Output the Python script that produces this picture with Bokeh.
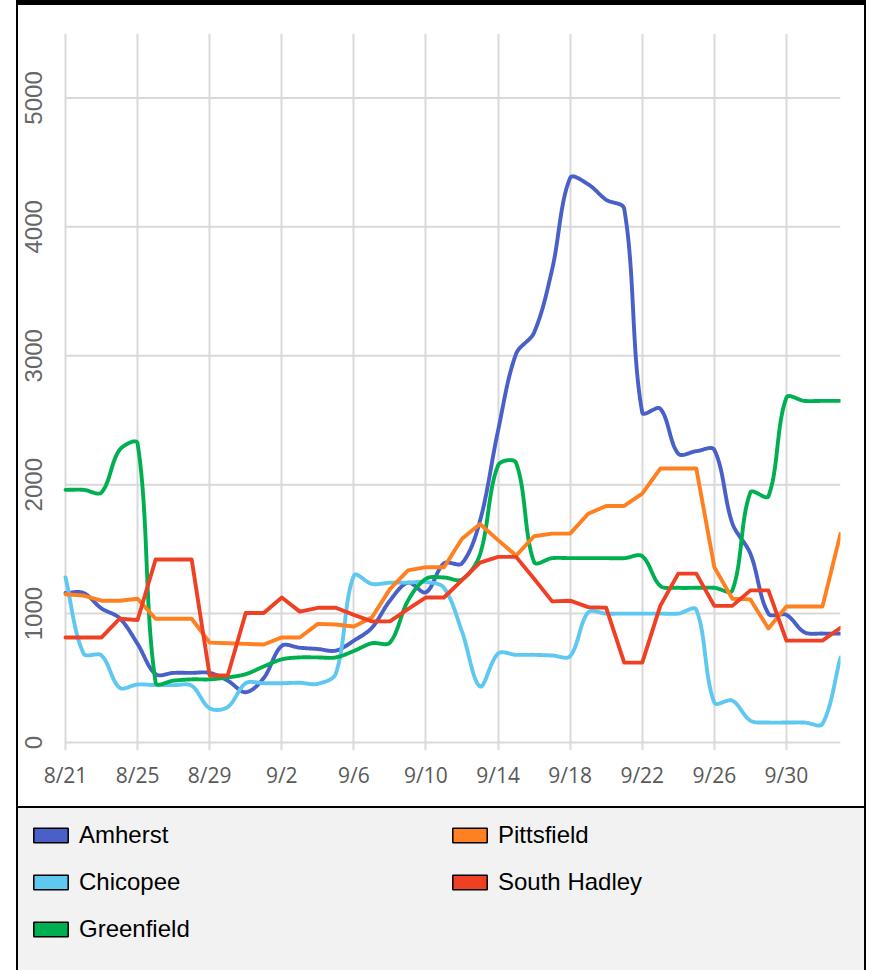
from bokeh.plotting import figure
from bokeh.models import FixedTicker, Range1d, Legend, LegendItem
from bokeh.core.properties import value
from bokeh.layouts import column
from bokeh.embed import file_html
from bokeh.resources import INLINE
import numpy as np

dates = ["8/21", "8/22", "8/23", "8/24", "8/25", "8/26", "8/27", "8/28", "8/29", "8/30", "8/31",
         "9/1", "9/2", "9/3", "9/4", "9/5", "9/6", "9/7", "9/8", "9/9", "9/10", "9/11", "9/12",
         "9/13", "9/14", "9/15", "9/16", "9/17", "9/18", "9/19", "9/20", "9/21", "9/22", "9/23",
         "9/24", "9/25", "9/26", "9/27", "9/28", "9/29", "9/30", "10/1", "10/2", "10/3"]

amherst = [1160, 1160, 1040, 965, 765, 530, 540, 540, 540, 480, 390, 500, 750, 735, 725, 713,
           790, 890, 1100, 1240, 1165, 1390, 1390, 1720, 2420, 3015, 3180, 3670, 4380, 4330,
           4210, 4140, 2560, 2590, 2240, 2260, 2270, 1700, 1465, 1000, 990, 855, 845, 845]
chicopee = [1280, 690, 675, 425, 450, 445, 445, 440, 265, 275, 460, 460, 460, 463, 455, 535,
            1295, 1230, 1240, 1240, 1245, 1200, 860, 435, 690, 680, 680, 675, 670, 1010, 1000,
            1000, 1000, 1000, 1000, 1030, 310, 325, 170, 155, 155, 155, 145, 660]
greenfield = [1960, 1960, 1940, 2270, 2320, 465, 480, 490, 490, 505, 530, 590, 645, 660, 660,
              660, 710, 770, 775, 1100, 1270, 1280, 1265, 1460, 2150, 2170, 1400, 1430, 1430,
              1430, 1430, 1430, 1445, 1215, 1200, 1200, 1200, 1180, 1940, 1910, 2675, 2650,
              2650, 2650]
pittsfield = [1150, 1140, 1100, 1100, 1115, 960, 960, 960, 775, 770, 765, 760, 815, 815, 920,
              915, 900, 970, 1190, 1335, 1360, 1360, 1580, 1695, 1570, 1450, 1600, 1620, 1620,
              1775, 1835, 1835, 1930, 2125, 2125, 2125, 1360, 1115, 1110, 885, 1055, 1055,
              1055, 1620]
south_hadley = [815, 815, 815, 960, 950, 1420, 1420, 1420, 520, 520, 1005, 1005, 1125, 1015,
                1045, 1045, 990, 940, 940, 1035, 1125, 1125, 1260, 1395, 1440, 1440, 1270, 1095,
                1100, 1050, 1045, 620, 620, 1060, 1310, 1310, 1060, 1060, 1180, 1180, 790, 790,
                790, 890]

series_names = ["Amherst", "Chicopee", "Greenfield", "Pittsfield", "South Hadley"]
series_values = [amherst, chicopee, greenfield, pittsfield, south_hadley]
series_colors = ["#4860c8", "#5fc8f0", "#00b050", "#ff8020", "#f04024"]
series_smooth = [True, True, True, False, False]

y_ticks = [0, 1000, 2000, 3000, 4000, 5000]
y_tick_labels = ["0", "1000", "2000", "3000", "4000", "5000"]
x_tick_idx = list(range(0, len(dates), 4))

N = len(dates)
Y_MAX = 5500
FRAME_W, FRAME_H = 775, 709          # pixel size of the data area (0..Y_MAX)
LEFT_PAD_PX = 47                      # room for the vertical value labels
BOTTOM_PAD_PX = 8                     # room under the zero line (tick marks, "0" label)
X_PER_PX = (N - 1) / FRAME_W
Y_PER_PX = Y_MAX / FRAME_H
X_START = -LEFT_PAD_PX * X_PER_PX
Y_START = -BOTTOM_PAD_PX * Y_PER_PX
Y_LABEL_X = -32 * X_PER_PX            # value labels sit 32 px left of the data area


def smooth_curve(vals, n=24):
    """Spreadsheet-style smoothed line: Bezier segments whose control arms are
    computed in screen space and scaled by neighbouring segment lengths."""
    y = np.asarray(vals, dtype=float)
    m = len(y)
    sx = FRAME_W / (m - 1)
    sy = FRAME_H / Y_MAX
    P = np.column_stack([np.arange(m) * sx, y * sy])
    t = np.linspace(0, 1, n, endpoint=False)[:, None]
    out = []
    for i in range(m - 1):
        p0 = P[i - 1] if i > 0 else P[i]
        p1, p2 = P[i], P[i + 1]
        p3 = P[i + 2] if i + 2 < m else P[i + 1]
        d01 = np.linalg.norm(p1 - p0)
        d12 = np.linalg.norm(p2 - p1)
        d23 = np.linalg.norm(p3 - p2)
        c1 = p1 + (p2 - p0) * (d12 / (3 * (d01 + d12))) if d01 + d12 > 0 else p1
        c2 = p2 - (p3 - p1) * (d12 / (3 * (d12 + d23))) if d12 + d23 > 0 else p2
        seg = ((1 - t) ** 3) * p1 + 3 * ((1 - t) ** 2) * t * c1 + 3 * (1 - t) * t ** 2 * c2 + t ** 3 * p2
        out.append(seg)
    out.append(P[-1][None, :])
    pts = np.vstack(out)
    return pts[:, 0] / sx, pts[:, 1] / sy


grid_col = "#d9d9d9"
tick_col = "#595959"

p = figure(width=850, height=808, x_range=Range1d(X_START, N - 1), y_range=Range1d(Y_START, Y_MAX),
           y_axis_location=None, output_backend="svg", toolbar_location=None,
           min_border_left=0, min_border_right=28, min_border_top=28,
           min_border_bottom=71 - BOTTOM_PAD_PX)
p.outline_line_color = None
p.background_fill_color = "white"
p.border_fill_color = "white"

# date axis at the bottom of the frame; the vertical grid lines run down past
# the zero line and act as the tick marks
p.xaxis.ticker = FixedTicker(ticks=x_tick_idx)
p.xaxis.bounds = (0, N - 1)
p.xaxis.major_label_overrides = {i: dates[i] for i in x_tick_idx}
p.xaxis.axis_line_color = None
p.xaxis.major_tick_line_color = None
p.xaxis.major_tick_out = 0
p.xaxis.major_tick_in = 0
p.xaxis.minor_tick_line_color = None
p.xaxis.major_label_text_font = "Open Sans"
p.xaxis.major_label_text_font_size = "21px"
p.xaxis.major_label_text_color = tick_col
p.xaxis.major_label_standoff = 10
p.xgrid.ticker = FixedTicker(ticks=x_tick_idx)
p.xgrid.grid_line_color = grid_col
p.xgrid.grid_line_width = 2
p.ygrid.visible = False

# horizontal value grid lines (incl. the zero line), spanning the data extent only
p.segment(x0=[0] * len(y_ticks), y0=y_ticks, x1=[N - 1] * len(y_ticks), y1=y_ticks,
          line_color=grid_col, line_width=2)
# vertical value labels
p.text(x=[Y_LABEL_X] * len(y_ticks), y=y_ticks, text=y_tick_labels, angle=np.pi / 2,
       text_align="center", text_baseline="middle", text_font=value("Liberation Sans"),
       text_font_size="24px", text_color="#666666")

for name, vals, col, sm in zip(series_names, series_values, series_colors, series_smooth):
    if sm:
        xs, ys = smooth_curve(vals)
    else:
        xs, ys = list(range(len(vals))), vals
    p.line(xs, ys, line_color=col, line_width=3.9, line_join="round", line_cap="round")

p.styles = {"border-top": "5px solid black", "border-left": "2px solid black",
            "border-right": "2px solid black", "border-bottom": "2px solid black"}

# legend panel
lg = figure(width=850, height=162, x_range=Range1d(0, 1), y_range=Range1d(0, 1),
            x_axis_location=None, y_axis_location=None,
            output_backend="svg", toolbar_location=None, min_border=0)
lg.grid.visible = False
lg.outline_line_color = None
lg.background_fill_color = "#f2f2f2"
lg.border_fill_color = "#f2f2f2"
lg.styles = {"border-left": "2px solid black", "border-right": "2px solid black",
             "background-color": "#f2f2f2"}

items = []
for name, col in zip(series_names, series_colors):
    r = lg.quad(left=[-3], right=[-2], top=[-2], bottom=[-3], fill_color=col, line_color="black",
                line_width=1.5, border_radius=4)
    items.append(LegendItem(label=name, renderers=[r]))

legend = Legend(items=items, nrows=3, orientation="vertical", location=(11, 27),
                glyph_width=43, glyph_height=18, label_standoff=7, spacing=19,
                label_width=350, padding=0, margin=0,
                label_text_font="Liberation Sans", label_text_font_size="24px",
                label_text_color="black", border_line_color=None,
                background_fill_alpha=0)
lg.add_layout(legend)

layout = column(p, lg, spacing=0, styles={"margin-left": "16px"})

open("out.html", "w").write(file_html(layout, INLINE))
